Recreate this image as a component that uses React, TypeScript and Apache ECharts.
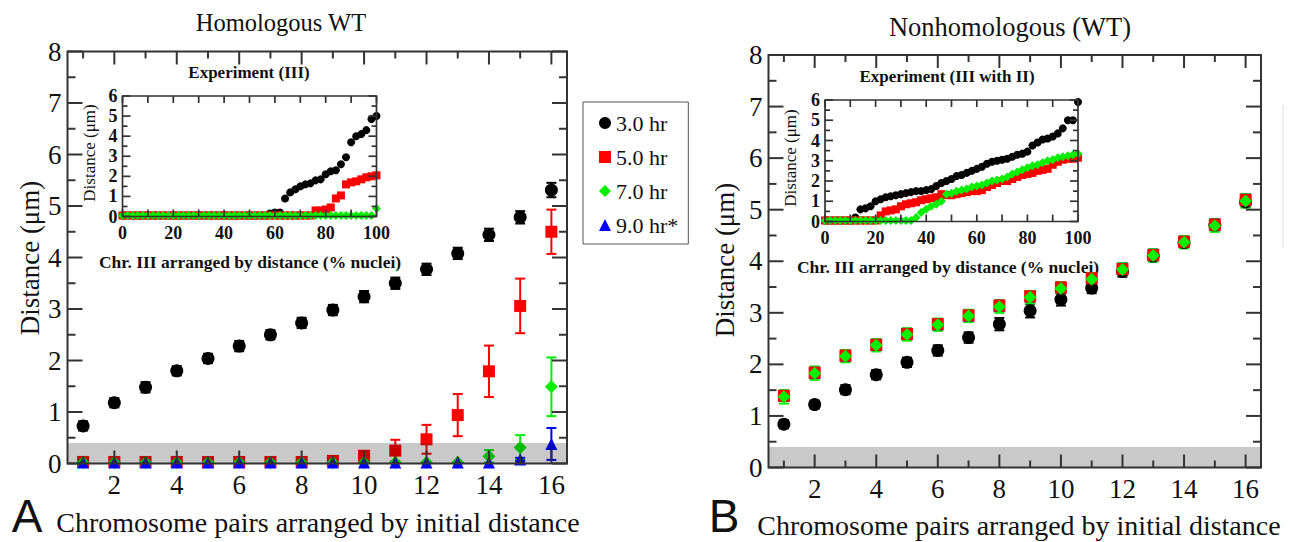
import React, { useEffect, useRef } from "react";
import * as echarts from "echarts";

const FONT = "Liberation Serif";
const SANS = "Liberation Sans";

// ---------- main panels ----------
const chromosomePairs = ["1", "2", "3", "4", "5", "6", "7", "8", "9", "10", "11", "12", "13", "14", "15", "16"];
const seriesNames = ["3.0 hr", "5.0 hr", "7.0 hr", "9.0 hr*"];
const mainXMajorTicks = [2, 4, 6, 8, 10, 12, 14, 16];
const mainXMinorTicks = [1, 3, 5, 7, 9, 11, 13, 15];
const mainYMajorTicks = [0, 1, 2, 3, 4, 5, 6, 7, 8];
const mainYMinorTicks = [0.5, 1.5, 2.5, 3.5, 4.5, 5.5, 6.5, 7.5];

// Panel A: Homologous WT
const homo3hr = [0.73, 1.18, 1.48, 1.8, 2.04, 2.28, 2.5, 2.73, 2.98, 3.24, 3.5, 3.77, 4.08, 4.44, 4.78, 5.31];
const homo3hrErr = [0.09, 0.09, 0.1, 0.09, 0.09, 0.1, 0.09, 0.1, 0.1, 0.11, 0.11, 0.11, 0.11, 0.12, 0.12, 0.14];
const homo5hr = [0.03, 0.03, 0.03, 0.03, 0.03, 0.03, 0.03, 0.03, 0.05, 0.15, 0.25, 0.47, 0.94, 1.79, 3.06, 4.5];
const homo5hrErr = [0, 0, 0, 0, 0, 0, 0, 0, 0.02, 0.05, 0.21, 0.28, 0.41, 0.5, 0.53, 0.43];
const homo7hr = [0.02, 0.02, 0.02, 0.02, 0.02, 0.02, 0.02, 0.02, 0.02, 0.02, 0.02, 0.02, 0.02, 0.14, 0.31, 1.49];
const homo7hrErr = [0, 0, 0, 0, 0, 0, 0, 0, 0, 0, 0, 0, 0, 0.12, 0.24, 0.57];
const homo9hr = [0.02, 0.02, 0.02, 0.02, 0.02, 0.02, 0.02, 0.02, 0.02, 0.02, 0.02, 0.02, 0.02, 0.02, 0.08, 0.38];
const homo9hrErr = [0, 0, 0, 0, 0, 0, 0, 0, 0, 0, 0, 0, 0, 0, 0.03, 0.31];

// Panel B: Nonhomologous (WT)
const non3hr = [0.84, 1.22, 1.51, 1.8, 2.04, 2.27, 2.52, 2.78, 3.04, 3.26, 3.48, 3.8, 4.1, 4.36, 4.7, 5.15];
const non3hrErr = [0.08, 0.08, 0.09, 0.09, 0.09, 0.1, 0.1, 0.12, 0.13, 0.12, 0.1, 0.1, 0.1, 0.1, 0.1, 0.1];
const non5hr = [1.39, 1.84, 2.17, 2.38, 2.59, 2.78, 2.95, 3.14, 3.32, 3.49, 3.67, 3.85, 4.12, 4.38, 4.71, 5.19];
const non5hrErr = [0.1, 0.1, 0.1, 0.1, 0.1, 0.1, 0.1, 0.1, 0.1, 0.1, 0.1, 0.1, 0.1, 0.1, 0.1, 0.1];
const non7hr = [1.37, 1.83, 2.16, 2.37, 2.58, 2.77, 2.94, 3.12, 3.3, 3.47, 3.65, 3.84, 4.11, 4.37, 4.69, 5.17];
const non7hrErr = [0.13, 0.13, 0.12, 0.12, 0.12, 0.12, 0.12, 0.12, 0.12, 0.12, 0.12, 0.12, 0.12, 0.12, 0.12, 0.13];
const non9hr = [1.39, 1.84, 2.17, 2.38, 2.59, 2.78, 2.95, 3.14, 3.32, 3.49, 3.67, 3.86, 4.13, 4.39, 4.72, 5.2];
const non9hrErr = [0.1, 0.1, 0.1, 0.1, 0.1, 0.1, 0.1, 0.1, 0.1, 0.1, 0.1, 0.1, 0.1, 0.1, 0.1, 0.1];

const grayBandTop = [0.4];

// ---------- insets ----------
const insetXTicks = [0, 10, 20, 30, 40, 50, 60, 70, 80, 90, 100];
const insetYMajorTicks = [0, 1, 2, 3, 4, 5, 6];
const insetYMinorTicks = [0.5, 1.5, 2.5, 3.5, 4.5, 5.5];
const insetPct = [0, 2, 4, 6, 8, 10, 12, 14, 16, 18, 20, 22, 24, 26, 28, 30, 32, 34, 36, 38, 40, 42, 44, 46, 48, 50,
  52, 54, 56, 58, 60, 62, 64, 66, 68, 70, 72, 74, 76, 78, 80, 82, 84, 86, 88, 90, 92, 94, 96, 98, 100];

// Experiment (III)
const expIII3hr = [0.05, 0.05, 0.05, 0.05, 0.05, 0.05, 0.05, 0.05, 0.05, 0.05, 0.05, 0.05, 0.05, 0.05, 0.05, 0.05,
  0.05, 0.05, 0.05, 0.05, 0.05, 0.05, 0.05, 0.05, 0.05, 0.05, 0.05, 0.05, 0.05, 0.15, 0.2, 0.2, 0.9, 1.2, 1.35, 1.5,
  1.6, 1.65, 1.8, 1.85, 2.1, 2.25, 2.3, 2.6, 2.95, 3.7, 4.0, 4.1, 4.3, 4.85, 5.0];
const expIII5hr = [0.05, 0.05, 0.05, 0.05, 0.05, 0.05, 0.05, 0.05, 0.05, 0.05, 0.05, 0.05, 0.05, 0.05, 0.05, 0.05,
  0.05, 0.05, 0.05, 0.05, 0.05, 0.05, 0.05, 0.05, 0.05, 0.05, 0.05, 0.05, 0.05, 0.05, 0.05, 0.05, 0.05, 0.05, 0.05,
  0.05, 0.05, 0.05, 0.3, 0.3, 0.35, 0.45, 0.9, 1.05, 1.6, 1.7, 1.75, 1.85, 1.95, 2.0, 2.05];
const expIII7hr = [0.05, 0.05, 0.05, 0.05, 0.05, 0.05, 0.05, 0.05, 0.05, 0.05, 0.05, 0.05, 0.05, 0.05, 0.05, 0.05,
  0.05, 0.05, 0.05, 0.05, 0.05, 0.05, 0.05, 0.05, 0.05, 0.05, 0.05, 0.05, 0.05, 0.05, 0.05, 0.05, 0.05, 0.05, 0.05,
  0.05, 0.05, 0.05, 0.05, 0.05, 0.05, 0.05, 0.05, 0.05, 0.05, 0.05, 0.05, 0.05, 0.05, 0.05, 0.4];

// Experiment (III with II)
const expIIIwII3hr = [0.05, 0.05, 0.05, 0.05, 0.05, 0.05, 0.2, 0.6, 0.65, 0.75, 1.0, 1.1, 1.2, 1.25, 1.3, 1.35, 1.4,
  1.45, 1.5, 1.5, 1.55, 1.6, 1.75, 1.9, 2.0, 2.1, 2.25, 2.3, 2.4, 2.5, 2.6, 2.7, 2.85, 2.95, 3.0, 3.05, 3.1, 3.2, 3.3,
  3.35, 3.45, 3.75, 3.9, 4.05, 4.1, 4.2, 4.35, 4.6, 5.0, 5.0, 5.9];
const expIIIwII5hr = [0.05, 0.05, 0.05, 0.05, 0.05, 0.05, 0.05, 0.05, 0.05, 0.05, 0.05, 0.3, 0.5, 0.55, 0.6, 0.75,
  0.85, 0.9, 0.95, 1.05, 1.1, 1.15, 1.2, 1.35, 1.3, 1.3, 1.35, 1.4, 1.45, 1.5, 1.5, 1.55, 1.7, 1.8, 1.9, 2.0, 2.0, 2.1,
  2.2, 2.3, 2.35, 2.4, 2.5, 2.55, 2.6, 2.8, 2.95, 3.05, 3.1, 3.1, 3.15];
const expIIIwII7hr = [0.05, 0.05, 0.05, 0.05, 0.05, 0.05, 0.05, 0.05, 0.05, 0.05, 0.05, 0.05, 0.05, 0.05, 0.05, 0.05,
  0.05, 0.05, 0.2, 0.45, 0.6, 0.75, 0.85, 1.0, 1.35, 1.4, 1.5, 1.55, 1.6, 1.7, 1.75, 1.8, 1.9, 2.0, 2.05, 2.1, 2.2,
  2.35, 2.45, 2.55, 2.65, 2.75, 2.8, 2.9, 3.0, 3.05, 3.15, 3.2, 3.25, 3.3, 3.35];

const COLORS = ["#000000", "#ff0000", "#00ee00", "#0000ff"];
const AXIS_COLOR = "#333333";

function errRender(color: string, capW: number) {
  return (params: any, api: any) => {
    const x = api.value(0);
    const y = api.value(1);
    const e = api.value(2);
    if (!e) return { type: "group", children: [] };
    const hi = api.coord([x, y + e]);
    const lo = api.coord([x, y - e]);
    const style = { stroke: color, lineWidth: 2 };
    return {
      type: "group",
      children: [
        { type: "line", shape: { x1: hi[0], y1: hi[1], x2: lo[0], y2: lo[1] }, style },
        { type: "line", shape: { x1: hi[0] - capW, y1: hi[1], x2: hi[0] + capW, y2: hi[1] }, style },
        { type: "line", shape: { x1: lo[0] - capW, y1: lo[1], x2: lo[0] + capW, y2: lo[1] }, style },
      ],
    };
  };
}

function bandRender(params: any, api: any) {
  const cs = params.coordSys;
  const top = api.coord([0, api.value(1)])[1];
  const bottom = cs.y + cs.height;
  return {
    type: "rect",
    shape: { x: cs.x, y: top, width: cs.width, height: bottom - top },
    style: { fill: "rgba(0,0,0,0.21)" },
  };
}

function boxRender(lw: number) {
  return (params: any, api: any) => {
    const cs = params.coordSys;
    return {
      type: "rect",
      shape: { x: cs.x, y: cs.y, width: cs.width, height: cs.height },
      style: { fill: "none", stroke: AXIS_COLOR, lineWidth: lw },
    };
  };
}

// tick marks drawn as thin rect symbols placed by the axes' scales
function tickSeries(xi: number, yi: number, data: number[][], size: number[], offset: number[]) {
  return {
    type: "scatter",
    name: "tick",
    xAxisIndex: xi,
    yAxisIndex: yi,
    symbol: "rect",
    symbolSize: size,
    symbolOffset: offset,
    itemStyle: { color: AXIS_COLOR, opacity: 1 },
    data,
    z: 6,
    silent: true,
    clip: false,
  };
}

function frameTicks(
  xi: number, yi: number,
  xMajor: number[], xMinor: number[], yMajor: number[], yMinor: number[],
  xEdges: number[], yEdges: number[],
  lens: number[], lw: number,
) {
  const [xMaj, xMin, yMaj, yMin] = lens;
  const out: any[] = [];
  const xt = [[xMajor, xMaj], [xMinor, xMin]] as any[];
  xt.forEach(([vals, len]: any) => {
    if (!vals.length) return;
    out.push(tickSeries(xi, yi, vals.map((v: number) => [v, yEdges[0]]), [lw, len], [0, -len / 2]));
    out.push(tickSeries(xi, yi, vals.map((v: number) => [v, yEdges[1]]), [lw, len], [0, len / 2]));
  });
  const yt = [[yMajor, yMaj], [yMinor, yMin]] as any[];
  yt.forEach(([vals, len]: any) => {
    if (!vals.length) return;
    out.push(tickSeries(xi, yi, vals.map((v: number) => [xEdges[0], v]), [len, lw], [len / 2, 0]));
    out.push(tickSeries(xi, yi, vals.map((v: number) => [xEdges[1], v]), [len, lw], [-len / 2, 0]));
  });
  return out;
}

function mainXAxis(gridIndex: number) {
  return {
    type: "category",
    gridIndex,
    data: chromosomePairs,
    boundaryGap: true,
    position: "bottom",
    axisLine: { show: false },
    axisTick: { show: false },
    splitLine: { show: false },
    axisLabel: {
      show: true,
      interval: (i: number) => i % 2 === 1,
      margin: 8,
      fontFamily: FONT,
      fontSize: 27,
      color: "#111",
    },
  };
}

// hidden numeric twin of the category axis (same 0.5 - 16.5 extent), used for tick placement
function mainXValueAxis(gridIndex: number) {
  return { type: "value", gridIndex, min: 0.5, max: 16.5, show: false, splitLine: { show: false } };
}

function mainYAxis(gridIndex: number) {
  return {
    type: "value",
    gridIndex,
    min: 0,
    max: 8,
    interval: 1,
    position: "left",
    axisLine: { show: false },
    axisTick: { show: false },
    splitLine: { show: false },
    axisLabel: { show: true, margin: 6, fontFamily: FONT, fontSize: 27, color: "#111" },
  };
}

function insetXAxis(gridIndex: number) {
  return {
    type: "value",
    gridIndex,
    min: 0,
    max: 100,
    interval: 20,
    position: "bottom",
    axisLine: { show: false },
    axisTick: { show: false },
    splitLine: { show: false },
    axisLabel: { show: true, margin: 7, fontFamily: FONT, fontSize: 18, fontWeight: "bold", color: "#111" },
  };
}

function insetYAxis(gridIndex: number) {
  return {
    type: "value",
    gridIndex,
    min: 0,
    max: 6,
    interval: 1,
    position: "left",
    axisLine: { show: false },
    axisTick: { show: false },
    splitLine: { show: false },
    axisLabel: { show: true, margin: 5, fontFamily: FONT, fontSize: 18, fontWeight: "bold", color: "#111" },
  };
}

const SYMBOLS = ["circle", "rect", "diamond", "triangle"];
const SIZES = [13, 12, 13, 12];

function mainSeries(values: number[][], errs: number[][], xAxisIndex: number, yAxisIndex: number, helperX: number, order: number[]) {
  const out: any[] = [];
  order.forEach((k) => {
    out.push({
      type: "custom",
      name: seriesNames[k] + " err",
      xAxisIndex,
      yAxisIndex,
      renderItem: errRender(COLORS[k], 5),
      data: values[k].map((v, i) => [i, v, errs[k][i]]),
      z: 2,
      silent: true,
    });
    out.push({
      type: "scatter",
      name: seriesNames[k],
      xAxisIndex,
      yAxisIndex,
      symbol: SYMBOLS[k],
      symbolSize: SIZES[k],
      itemStyle: { color: COLORS[k], opacity: 1 },
      data: values[k].map((v, i) => [i, v]),
      z: 2,
    });
  });
  out.push({
    type: "custom",
    name: "band",
    xAxisIndex,
    yAxisIndex,
    renderItem: bandRender,
    data: grayBandTop.map((v) => [0, v]),
    z: 5,
    silent: true,
  });
  out.push({
    type: "custom",
    name: "box",
    xAxisIndex,
    yAxisIndex,
    renderItem: boxRender(2),
    data: [[0, 4]],
    z: 6,
    silent: true,
  });
  return out.concat(
    frameTicks(helperX, yAxisIndex, mainXMajorTicks, mainXMinorTicks, mainYMajorTicks, mainYMinorTicks,
      [0.5, 16.5], [0, 8], [13, 7, 15, 8], 2),
  );
}

function insetSeries(values: number[][], xAxisIndex: number, yAxisIndex: number) {
  const syms = ["circle", "rect", "diamond"];
  const sizes = [8, 8, 9];
  const out: any[] = values.map((vals, k) => ({
    type: "scatter",
    name: "inset" + k,
    xAxisIndex,
    yAxisIndex,
    symbol: syms[k],
    symbolSize: sizes[k],
    itemStyle: { color: COLORS[k], opacity: 1 },
    data: insetPct.map((p, i) => [p, vals[i]]),
    z: 3,
    silent: true,
  }));
  out.push({
    type: "custom",
    name: "box",
    xAxisIndex,
    yAxisIndex,
    renderItem: boxRender(1.7),
    data: [[50, 3]],
    z: 6,
    silent: true,
  });
  return out.concat(
    frameTicks(xAxisIndex, yAxisIndex, insetXTicks, [], insetYMajorTicks, insetYMinorTicks,
      [0, 100], [0, 6], [7, 7, 8, 5], 1.7),
  );
}

function txt(text: string, x: number, y: number, size: number, opts: any = {}) {
  return {
    type: "text",
    x,
    y,
    rotation: opts.rotation || 0,
    style: {
      text,
      fontFamily: opts.family || FONT,
      fontSize: size,
      fontWeight: opts.weight || "normal",
      fill: "#111",
      align: "center",
      verticalAlign: "middle",
    },
  };
}

export default function App() {
  const ref = useRef<HTMLDivElement>(null);
  useEffect(() => {
    document.body.style.margin = "0";
    const chart = echarts.init(ref.current!, null, { renderer: "svg" });
    const option: any = {
      animation: false,
      backgroundColor: "#ffffff",
      textStyle: { fontFamily: FONT },
      grid: [
        { left: 67.5, top: 51.5, width: 499.5, height: 412 },
        { left: 122.5, top: 96, width: 254, height: 120.5 },
        { left: 768.5, top: 55, width: 492.5, height: 412.5 },
        { left: 825, top: 100, width: 253, height: 121.5 },
      ],
      // 0-3: visible axes; 4-5: hidden numeric twins of the main category axes
      xAxis: [mainXAxis(0), insetXAxis(1), mainXAxis(2), insetXAxis(3), mainXValueAxis(0), mainXValueAxis(2)],
      yAxis: [mainYAxis(0), insetYAxis(1), mainYAxis(2), insetYAxis(3)],
      legend: {
        left: 583,
        top: 102,
        orient: "vertical",
        selectedMode: false,
        data: [
          { name: "3.0 hr", icon: "circle" },
          { name: "5.0 hr", icon: "rect" },
          { name: "7.0 hr", icon: "diamond" },
          { name: "9.0 hr*", icon: "triangle" },
        ],
        itemWidth: 12,
        itemHeight: 12,
        itemGap: 10,
        itemTextGap: 19,
        padding: [9, 10, 7, 16],
        borderColor: "#555",
        borderWidth: 1,
        backgroundColor: "#fff",
        textStyle: { fontFamily: FONT, fontSize: 22, color: "#111", lineHeight: 24 },
      },
      graphic: [
        txt("Homologous WT", 281, 22, 24.5),
        txt("Nonhomologous (WT)", 1010, 27, 26.5),
        txt("Distance (\u03bcm)", 30, 258, 27, { rotation: Math.PI / 2 }),
        txt("Distance (\u03bcm)", 725, 260, 27, { rotation: Math.PI / 2 }),
        txt("Chromosome pairs arranged by initial distance", 318, 522, 28),
        txt("Chromosome pairs arranged by initial distance", 1019, 525, 28),
        txt("A", 27, 516, 46, { family: SANS }),
        txt("B", 724, 516, 46, { family: SANS }),
        txt("Experiment (III)", 249, 72, 17, { weight: "bold" }),
        txt("Experiment (III with II)", 947, 76, 17, { weight: "bold" }),
        txt("Chr. III arranged by distance (% nuclei)", 250, 262, 17.5, { weight: "bold" }),
        txt("Chr. III arranged by distance (% nuclei)", 948, 267, 17.5, { weight: "bold" }),
        txt("Distance (\u03bcm)", 89, 153, 17, { rotation: Math.PI / 2 }),
        txt("Distance (\u03bcm)", 790, 158, 17, { rotation: Math.PI / 2 }),
        { type: "line", shape: { x1: 1283, y1: 105, x2: 1283, y2: 248 }, style: { stroke: "#dddddd", lineWidth: 1 } },
      ],
      series: [
        ...mainSeries([homo3hr, homo5hr, homo7hr, homo9hr], [homo3hrErr, homo5hrErr, homo7hrErr, homo9hrErr], 0, 0, 4, [0, 1, 2, 3]),
        ...insetSeries([expIII3hr, expIII5hr, expIII7hr], 1, 1),
        ...mainSeries([non3hr, non5hr, non7hr, non9hr], [non3hrErr, non5hrErr, non7hrErr, non9hrErr], 2, 2, 5, [0, 3, 1, 2]),
        ...insetSeries([expIIIwII3hr, expIIIwII5hr, expIIIwII7hr], 3, 3),
      ],
    };
    chart.setOption(option);
    return () => chart.dispose();
  }, []);
  return <div ref={ref} style={{ width: 1298, height: 542 }} />;
}
